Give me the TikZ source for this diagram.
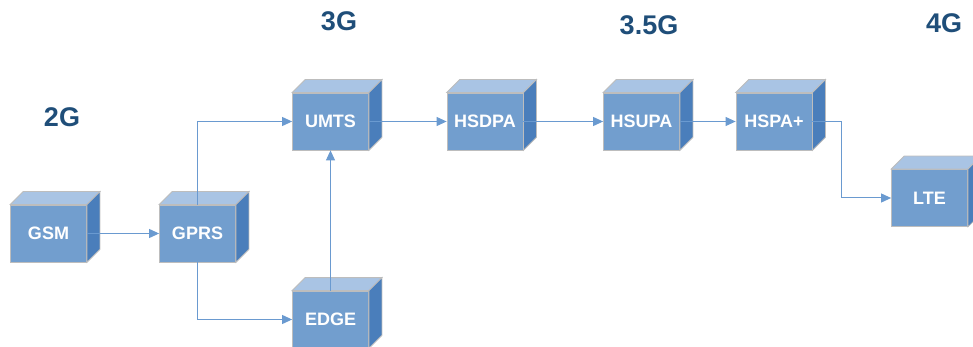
\documentclass[tikz,border=0pt]{standalone}
\usepackage{fontspec}
\setmainfont{Liberation Sans}
\usetikzlibrary{arrows.meta}
\definecolor{boxfront}{HTML}{729ECE}
\definecolor{boxtop}{HTML}{A9C4E4}
\definecolor{boxside}{HTML}{4A7EBB}
\definecolor{boxline}{HTML}{BDBDBD}
\definecolor{arrowblue}{HTML}{6A9AD0}
\definecolor{gentext}{HTML}{1F4E79}
\begin{document}
\begin{tikzpicture}[x=1pt, y=-1pt,
    cube/.style={draw=boxline, fill=boxfront, line width=0.8pt, minimum width=76pt, minimum height=57pt,
      inner sep=0pt, text=white, font=\fontsize{18}{20}\selectfont\bfseries},
    topface/.style={draw=boxline, fill=boxtop, line width=0.8pt},
    sideface/.style={draw=boxline, fill=boxside, line width=0.8pt},
    gen/.style={text=gentext, font=\fontsize{27}{30}\selectfont\bfseries},
    link/.style={draw=arrowblue, line width=1pt, -{Triangle[length=10pt,width=9pt]}}]
  \useasboundingbox (0,0) rectangle (973,347);
  % generations
  \node[gen] (g2)  at (62,117)  {2G};
  \node[gen] (g3)  at (339,21)  {3G};
  \node[gen] (g35) at (649,25)  {3.5G};
  \node[gen] (g4)  at (944,23)  {4G};
  % boxes
  \node[cube] (gsm)      at (48.5,233.5) {GSM};
  \node[cube] (gprs)     at (197.5,233.5) {GPRS};
  \node[cube] (umts)     at (330.5,121.5) {UMTS};
  \node[cube] (edgebox)  at (330.5,319.5) {EDGE};
  \node[cube] (hsdpa)    at (485,121.5) {HSDPA};
  \node[cube] (hsupa)    at (641.5,121.5) {HSUPA};
  \node[cube] (hspaplus) at (774,121.5) {HSPA+};
  \node[cube] (lte)      at (929.5,198) {LTE};
  \foreach \n in {gsm,gprs,umts,edgebox,hsdpa,hsupa,hspaplus,lte} {
    \filldraw[topface] (\n.north west) -- ++(13pt,13pt) -- ([shift={(13pt,13pt)}]\n.north east) -- (\n.north east) -- cycle;
    \filldraw[sideface] (\n.north east) -- ++(13pt,13pt) -- ([shift={(13pt,13pt)}]\n.south east) -- (\n.south east) -- cycle;
  }
  % links
  \draw[link] (gsm.east) -- (gprs.west);
  \draw[link] (gprs.north) |- (umts.west);
  \draw[link] (gprs.south) |- (edgebox.west);
  \draw[link] (edgebox.north) -- (umts.south);
  \draw[link] (umts.east) -- (hsdpa.west);
  \draw[link] (hsdpa.east) -- (hsupa.west);
  \draw[link] (hsupa.east) -- (hspaplus.west);
  \draw[link] (hspaplus.east) -- ++(29,0) |- (lte.west);
\end{tikzpicture}
\end{document}
